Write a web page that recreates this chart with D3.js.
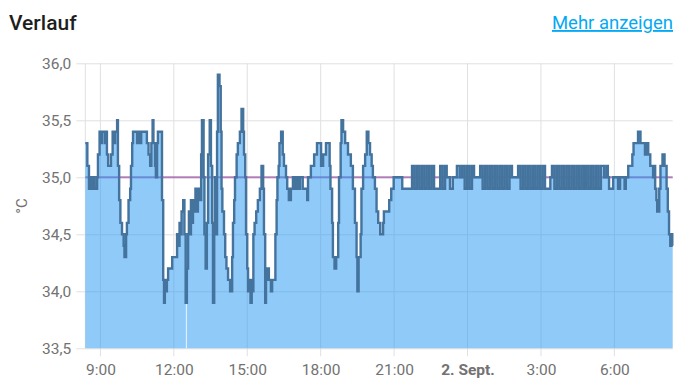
<!DOCTYPE html>
<html>
<head>
<meta charset="utf-8">
<script src="https://cdn.jsdelivr.net/npm/d3@7"></script>
<style>
  body { margin: 0; background: #fff; font-family: Roboto, "Noto Sans", sans-serif; }
  svg { display: block; }
</style>
</head>
<body>
<svg id="chart" width="696" height="385"></svg>
<script>
// ---- data: [minutes since window start, °C] ----
const startTime = new Date(2023, 8, 1, 8, 23)
const windowMinutes = 24 * 60

const morning = [[0,35.3],[5,35.1],[9,34.9],[13,35.0],[15,34.9],[19,35.0],[23,34.9],[29,35.0],[31,35.2],[35,35.4],[38,35.3],[41,35.4],[48,35.3],[51,35.4],[53,35.2],[56,35.1],[63,35.2],[67,35.4],[70,35.3],[73,35.4],[78,35.5],[80,35.1],[83,34.8],[86,34.6],[90,34.5],[94,34.4],[96,34.3],[100,34.5],[102,34.6],[106,34.8],[110,34.9],[112,35.1],[115,35.3],[117,35.4],[127,35.3],[129,35.4],[134,35.3],[137,35.4],[151,35.3],[155,35.2],[159,35.1],[162,35.3],[165,35.5],[167,35.3],[171,35.1],[173,35.0],[176,35.3],[178,35.4]]

const midday = [[188,34.8],[191,34.1],[193,33.9],[195,34.1],[198,34.0],[200,34.1],[203,34.2],[213,34.3],[225,34.5],[227,34.4],[231,34.6],[233,34.5],[236,34.7],[240,34.8],[243,34.5],[246,33.9],[249,34.2],[252,34.5],[254,34.7],[257,34.5],[259,34.8],[262,34.6],[264,34.8],[268,34.7],[270,34.9],[274,34.7],[276,34.9],[281,34.8],[284,35.2],[286,35.5],[290,35.0],[292,34.5],[295,34.2],[298,34.6],[301,35.2],[305,35.5],[308,35.1],[311,34.6],[313,33.9],[316,34.5],[318,35.0],[320,34.5],[323,35.4],[325,35.9],[329,35.8],[332,35.4],[334,34.9],[336,34.7],[340,34.5],[343,34.3],[346,34.2],[350,34.1],[355,34.0],[360,34.3],[362,34.6],[365,34.8],[367,35.0],[371,35.2],[374,35.3],[379,35.4],[383,35.6],[387,35.4],[389,35.2],[392,35.0],[394,34.5],[397,34.2],[399,34.0],[401,34.1],[405,33.9],[408,34.1],[410,34.0],[412,34.5],[415,34.6],[419,34.7],[423,34.8],[428,34.9],[432,35.1],[436,34.9],[438,34.5],[441,33.9],[443,34.1],[446,34.2],[450,34.1],[455,34.0],[458,34.1]]

const evening = [[466,34.5],[469,34.8],[471,35.0],[474,35.1],[476,35.3],[480,35.4],[484,35.2],[487,35.1],[492,35.0],[495,34.9],[499,34.8],[504,34.9],[509,35.0],[512,34.9],[514,35.0],[517,34.9],[519,35.0],[522,34.9],[526,35.0],[533,34.9],[544,34.8],[546,35.0],[553,35.1],[561,35.2],[568,35.3],[578,35.1],[583,35.2],[590,35.3],[599,35.1],[601,34.9],[605,34.6],[607,34.3],[611,34.2],[615,34.3],[620,34.6],[622,35.0],[626,35.3],[628,35.5],[632,35.4],[637,35.3],[644,35.2],[651,35.1],[656,34.9],[661,34.6],[665,34.3],[667,34.0],[670,34.3],[675,34.5],[677,34.9],[681,35.1],[686,35.2],[690,35.4],[694,35.3],[698,35.2],[702,35.1],[705,35.0],[710,34.9],[714,34.7],[718,34.6],[723,34.5],[730,34.6],[732,34.7],[745,34.8],[750,34.9],[756,35.0],[777,34.9]]

const night = [[801,35.1],[807,34.9],[813,35.1],[819,34.9],[825,35.1],[831,34.9],[837,35.1],[843,34.9],[849,35.1],[855,34.9],[870,35.1],[876,34.9],[882,35.1],[886,35.0],[894,34.9],[901,35.0],[911,35.1],[918,35.0],[924,35.1],[930,34.9],[936,35.1],[942,34.9],[948,35.1],[953,35.0],[968,35.1],[974,34.9],[980,35.1],[986,34.9],[992,35.1],[998,34.9],[1004,35.1],[1010,34.9],[1016,35.1],[1022,34.9],[1028,35.1],[1034,34.9],[1040,35.1],[1046,35.0],[1061,35.1],[1067,34.9],[1073,35.1],[1079,34.9],[1085,35.1],[1091,34.9],[1097,35.1],[1103,34.9],[1109,35.1],[1115,34.9],[1121,35.1],[1127,34.9],[1140,35.0],[1144,35.1],[1150,34.9],[1156,35.1],[1162,34.9],[1168,35.1],[1174,34.9],[1180,35.1],[1186,34.9],[1192,35.1],[1198,34.9],[1204,35.1],[1210,34.9],[1216,35.1],[1222,34.9],[1228,35.1],[1234,34.9],[1240,35.1],[1246,34.9],[1252,35.1],[1258,34.9],[1264,35.1],[1272,35.0],[1278,35.1],[1281,35.0]]

const nextMorning = [[1284,34.9],[1294,35.0],[1306,34.9],[1311,35.0],[1322,34.9],[1325,35.0],[1331,35.1],[1341,35.2],[1344,35.3],[1355,35.4],[1361,35.3],[1372,35.2],[1376,35.3],[1380,35.2],[1385,35.1],[1392,35.0],[1395,35.1],[1397,34.9],[1400,34.8],[1402,34.7],[1407,34.9],[1410,35.1],[1415,35.2],[1420,35.1],[1425,34.9],[1428,34.7],[1431,34.5],[1434,34.4],[1436,34.5],[1439,34.4]]

const targetTemps = [[0,35.0],[1440,35.0]]
// heating switched off for a moment -> gap in the fill
const heatingOff = [[246.6, 248.6]]

const yTicks = [33.5, 34.0, 34.5, 35.0, 35.5, 36.0]
const xTickHours = [9, 12, 15, 18, 21, 24, 27, 30]
const xTickLabels = ["9:00", "12:00", "15:00", "18:00", "21:00", "2. Sept.", "3:00", "6:00"]

// ---- layout ----
const margin = {top: 63.3, right: 23.3, bottom: 36.7, left: 85.3}
const width = 696 - margin.left - margin.right
const height = 385 - margin.top - margin.bottom
const gridColor = "#e0e0e0"
const labelColor = "#727272"

const toDate = m => new Date(+startTime + m * 60000)
const readings = [].concat(morning, midday, evening, night, nextMorning)
const lastValue = readings[readings.length - 1][1]
const series = readings.concat([[windowMinutes, lastValue]])

const x = d3.scaleTime().domain([toDate(0), toDate(windowMinutes)]).range([0, width])
const y = d3.scaleLinear().domain([33.5, 36]).range([height, 0])

const de = d3.formatLocale({decimal: ",", thousands: ".", grouping: [3], currency: ["", " €"]})
const fmt = de.format(".1f")

const svg = d3.select("#chart")

// header
svg.append("text")
  .attr("x", 9).attr("y", 30)
  .attr("font-size", 21).attr("font-weight", 500)
  .attr("fill", "#1e1e1e")
  .text("Verlauf")

svg.append("text")
  .attr("x", 673).attr("y", 29)
  .attr("text-anchor", "end")
  .attr("font-size", 18.5)
  .attr("fill", "#03a9f4")
  .attr("text-decoration", "underline")
  .text("Mehr anzeigen")

const g = svg.append("g").attr("transform", `translate(${margin.left},${margin.top})`)

// grid
g.append("g").selectAll("line").data(yTicks).join("line")
  .attr("x1", -9).attr("x2", width)
  .attr("y1", d => Math.round(y(d)) + 0.5).attr("y2", d => Math.round(y(d)) + 0.5)
  .attr("stroke", gridColor)

const tickDates = xTickHours.map(h => new Date(2023, 8, 1, h, 0))
g.append("g").selectAll("line").data(tickDates).join("line")
  .attr("x1", d => x(d)).attr("x2", d => x(d))
  .attr("y1", 0).attr("y2", height + 8)
  .attr("stroke", gridColor)

g.append("line")
  .attr("x1", 0).attr("x2", 0).attr("y1", 0).attr("y2", height)
  .attr("stroke", gridColor)

// target temperature
const line = d3.line()
  .x(d => x(toDate(d[0])))
  .y(d => y(d[1]))
  .curve(d3.curveStepAfter)

g.append("path")
  .datum(targetTemps)
  .attr("d", line)
  .attr("fill", "none")
  .attr("stroke", "rgba(152,78,163,0.7)")
  .attr("stroke-width", 2)

// heating fill, split where heating was off
const valueAt = m => {
  let v = series[0][1]
  for (const r of series) { if (r[0] <= m) v = r[1]; else break }
  return v
}
const segments = []
let segStart = 0
heatingOff.forEach(gap => { segments.push([segStart, gap[0]]); segStart = gap[1] })
segments.push([segStart, windowMinutes])

const area = d3.area()
  .x(d => x(toDate(d[0])))
  .y0(height)
  .y1(d => y(d[1]))
  .curve(d3.curveStepAfter)

segments.forEach(([a, b]) => {
  const pts = [[a, valueAt(a)]]
    .concat(series.filter(r => r[0] > a && r[0] < b))
    .concat([[b, valueAt(b)]])
  g.append("path")
    .datum(pts)
    .attr("d", area)
    .attr("fill", "rgba(33,150,243,0.5)")
})

// current temperature
g.append("path")
  .datum(series)
  .attr("d", line)
  .attr("fill", "none")
  .attr("stroke", "#44739e")
  .attr("stroke-width", 2.4)

// axes (labels only, lines drawn as grid)
const yAxis = g.append("g")
  .call(d3.axisLeft(y).tickValues(yTicks).tickFormat(fmt).tickSize(9).tickPadding(5))
yAxis.select(".domain").remove()
yAxis.selectAll("line").remove()
yAxis.selectAll("text")
  .attr("font-family", "Roboto, sans-serif")
  .attr("font-size", 15.5)
  .attr("fill", labelColor)

const xAxis = g.append("g")
  .attr("transform", `translate(0,${height})`)
  .call(d3.axisBottom(x).tickValues(tickDates).tickFormat((d, i) => xTickLabels[i]).tickSize(8).tickPadding(8))
xAxis.select(".domain").remove()
xAxis.selectAll("line").remove()
xAxis.selectAll("text")
  .attr("font-family", "Roboto, sans-serif")
  .attr("font-size", 15.5)
  .attr("fill", labelColor)
  .attr("font-weight", (d, i) => xTickLabels[i].indexOf("Sept") >= 0 ? 700 : 400)

svg.append("text")
  .attr("transform", "translate(27,206) rotate(-90)")
  .attr("text-anchor", "middle")
  .attr("font-size", 15)
  .attr("fill", labelColor)
  .text("°C")
</script>
</body>
</html>
